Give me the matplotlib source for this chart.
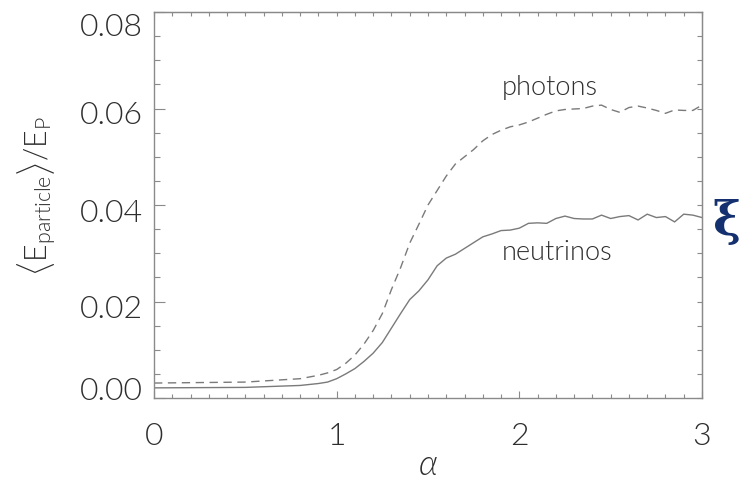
import matplotlib
matplotlib.use("Agg")
import matplotlib.pyplot as plt
from matplotlib.ticker import MultipleLocator, FixedLocator
import matplotlib.transforms as mtransforms

alpha_vals = [0, 0.5, 0.8, 0.9, 0.95, 1.0, 1.05, 1.1, 1.15, 1.2, 1.25, 1.3, 1.35, 1.4, 1.45,
              1.5, 1.55, 1.6, 1.65, 1.7, 1.75, 1.8, 1.85, 1.9, 1.95, 2.0, 2.05, 2.1, 2.15,
              2.2, 2.25, 2.3, 2.35, 2.4, 2.45, 2.5, 2.55, 2.6, 2.65, 2.7, 2.75, 2.8, 2.85,
              2.9, 2.95, 3.0]
neutrinos = [0.0021, 0.0022, 0.0026, 0.0030, 0.0033, 0.0040, 0.0050, 0.0061, 0.0076, 0.0093,
             0.0115, 0.0145, 0.0175, 0.0204, 0.0222, 0.0245, 0.0274, 0.0290, 0.0298, 0.0310,
             0.0322, 0.0334, 0.0340, 0.0347, 0.0348, 0.0352, 0.0362, 0.0363, 0.0362, 0.0372,
             0.0377, 0.0372, 0.0371, 0.0371, 0.0379, 0.0372, 0.0376, 0.0378, 0.0369, 0.0381,
             0.0374, 0.0376, 0.0365, 0.0381, 0.0379, 0.0374]
photons = [0.0031, 0.0033, 0.0040, 0.0047, 0.0052, 0.0059, 0.0072, 0.0089, 0.0112, 0.0140,
           0.0175, 0.0225, 0.0270, 0.0321, 0.0360, 0.0400, 0.0430, 0.0460, 0.0485, 0.0500,
           0.0515, 0.0533, 0.0546, 0.0555, 0.0562, 0.0566, 0.0572, 0.0580, 0.0588, 0.0595,
           0.0598, 0.0599, 0.0600, 0.0605, 0.0607, 0.0598, 0.0592, 0.0602, 0.0605, 0.0601,
           0.0596, 0.0590, 0.0597, 0.0596, 0.0596, 0.0607]
x_ticks = [0, 1, 2, 3]
y_ticks = [0.00, 0.02, 0.04, 0.06, 0.08]
y_ticklabels = ["0.00", "0.02", "0.04", "0.06", "0.08"]

FONT = "Lato"
plt.rcParams["font.family"] = [FONT, "DejaVu Sans"]
plt.rcParams["font.weight"] = 300
plt.rcParams["mathtext.fontset"] = "custom"
plt.rcParams["mathtext.rm"] = FONT + ":weight=300"
plt.rcParams["mathtext.it"] = FONT + ":italic:weight=300"

txtc = "#2e2e2e"
linec = "#7a7a7a"
spinec = "#8a8a8a"

fig = plt.figure(figsize=(7.40, 4.91), dpi=100)
ax = fig.add_axes([154 / 740, 1 - 398 / 491, (702 - 154) / 740, (398 - 12) / 491])

ax.plot(alpha_vals, neutrinos, color=linec, lw=1.0, solid_joinstyle="miter")
ax.plot(alpha_vals, photons, color=linec, lw=1.0, dashes=(6, 4))

ax.set_xlim(0, 3)
ax.set_ylim(0, 0.08)
for s in ax.spines.values():
    s.set_color(spinec)
    s.set_linewidth(1.0)

ax.xaxis.set_major_locator(FixedLocator(x_ticks))
ax.xaxis.set_minor_locator(MultipleLocator(0.1))
ax.yaxis.set_major_locator(FixedLocator(y_ticks))
ax.yaxis.set_minor_locator(MultipleLocator(0.005))
ax.set_yticklabels(y_ticklabels)
ax.set_xticklabels([str(v) for v in x_ticks])

ax.tick_params(axis="x", which="major", direction="in", length=5, width=0.8, color=spinec,
               labelsize=23, labelcolor=txtc, pad=17)
ax.tick_params(axis="x", which="minor", direction="in", length=2.7, width=0.8, color=spinec)
ax.tick_params(axis="y", which="major", direction="in", length=8, width=0.8, color=spinec,
               labelsize=23, labelcolor=txtc, pad=8)
ax.tick_params(axis="y", which="minor", direction="in", length=4.5, width=0.8, color=spinec)

# vertical offsets of y tick labels (in pixels, positive = up)
offs = {"0.00": 10, "0.02": -5, "0.04": -5, "0.06": -4, "0.08": -13}
for lab, txt in zip(ax.get_yticklabels(), y_ticklabels):
    lab.set_transform(lab.get_transform() +
                      mtransforms.ScaledTranslation(0, offs[txt] / 100, fig.dpi_scale_trans))

top = ax.secondary_xaxis("top")
top.xaxis.set_major_locator(FixedLocator(x_ticks))
top.xaxis.set_minor_locator(MultipleLocator(0.1))
top.tick_params(which="both", direction="in", length=3, width=0.8, color=spinec, labeltop=False)
top.spines["top"].set_color(spinec)
right = ax.secondary_yaxis("right")
right.yaxis.set_major_locator(FixedLocator(y_ticks))
right.yaxis.set_minor_locator(MultipleLocator(0.005))
right.tick_params(which="both", direction="in", length=3.5, width=0.8, color=spinec, labelright=False)
right.spines["right"].set_color(spinec)

ax.set_xlabel(r"$\mathit{\alpha}$", fontsize=25, color=txtc)
ax.xaxis.set_label_coords(0.5, (398 - 449) / 386)
ax.set_ylabel(r"$\langle\mathrm{E}_{\mathrm{particle}}\rangle/\mathrm{E}_{\mathrm{P}}$",
              fontsize=22, color=txtc)
ax.yaxis.set_label_coords((58 - 154) / 548, (398 - 196) / 386)

ax.text(550 / 740, 1 - 87 / 491, "photons", transform=fig.transFigure, fontsize=19.5,
        color=txtc, ha="center", va="center")
ax.text(557 / 740, 1 - 252 / 491, "neutrinos", transform=fig.transFigure, fontsize=19.5,
        color=txtc, ha="center", va="center")

fig.text(726 / 740, 1 - 222 / 491, "ξ", fontsize=34, color="#14306e",
         family="DejaVu Serif", weight="bold", ha="center", va="center")

fig.savefig("out.png", dpi=100)
